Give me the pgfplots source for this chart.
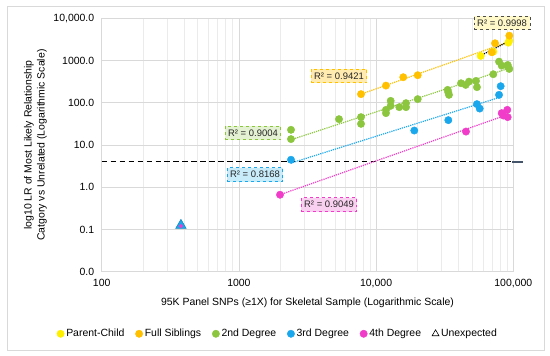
\documentclass[border=0pt]{standalone}
\usepackage{pgfplots}
\pgfplotsset{compat=1.18}
\usepackage{fontspec}
\setmainfont{Liberation Sans}
\definecolor{cYel}{HTML}{FFF000}
\definecolor{cOra}{HTML}{FFC000}
\definecolor{cGre}{HTML}{8CC63F}
\definecolor{cBlu}{HTML}{1AA7EC}
\definecolor{cPin}{HTML}{F03CC8}
\definecolor{gridc}{HTML}{D9D9D9}
\definecolor{mgridc}{HTML}{EBEBEB}
\definecolor{slate}{HTML}{44546A}
\begin{document}
\begin{tikzpicture}
\begin{axis}[
  name=ax,
  scale only axis, width=411.6bp, height=253.4bp,
  xmode=log, ymode=log,
  xmin=100, xmax=100000, ymin=0.01, ymax=10000,
  clip=false,
  font=\fontsize{10.5}{13}\selectfont,
  xtick={100,1000,10000,100000},
  xticklabels={100,1000,{10,000},{100,000}},
  ytick={0.01,0.1,1,10,100,1000,10000},
  yticklabels={0.0,0.1,1.0,10.0,100.0,1000.0,{10,000.0}},
  minor xtick={200,300,400,500,600,700,800,900,2000,3000,4000,5000,6000,7000,8000,9000,20000,30000,40000,50000,60000,70000,80000,90000},
  minor ytick={},
  xmajorgrids, ymajorgrids, xminorgrids,
  major grid style={gridc, line width=0.8pt},
  minor grid style={mgridc, line width=0.6pt},
  axis line style={gridc, line width=0.8pt},
  tick style={draw=none},
  xticklabel style={yshift=-4bp},
  yticklabel style={xshift=-4bp},
  xlabel={95K Panel SNPs (≥1X) for Skeletal Sample (Logarithmic Scale)},
  every axis x label/.style={at={(axis description cs:0.5,-0.122)}, anchor=center, font=\fontsize{10.5}{13}\selectfont},
  legend columns=-1,
  legend style={at={(axis description cs:0.428,-0.245)}, anchor=center, draw=none, fill=none,
    font=\fontsize{10.5}{13}\selectfont, /tikz/every even column/.append style={column sep=9bp}},
  legend image code/.code={\draw[#1] plot coordinates {(0bp,0bp)};},
]
% threshold line
\addplot[black, line width=1.3pt, dash pattern=on 5.5pt off 3.5pt, forget plot] coordinates {(100,4) (100000,4)};
\addplot[slate, line width=1.6pt, forget plot] coordinates {(98000,4) (117000,4)};
% trend lines
\addplot[cOra, line width=1.2pt, densely dotted, forget plot] coordinates {(7762,160) (93500,2800)};
\addplot[cGre, line width=1.2pt, densely dotted, forget plot] coordinates {(2397,13.3) (93500,658)};
\addplot[cBlu, line width=1.2pt, densely dotted, forget plot] coordinates {(2397,3.73) (78700,133)};
\addplot[cPin, line width=1.2pt, densely dotted, forget plot] coordinates {(1994,0.665) (82600,47)};
% data
\addplot[only marks, mark=*, mark size=3.7bp, cYel, mark options={draw=cYel, fill=cYel}] coordinates {
 (57850,1285) (71470,1623) (93500,2951) (92000,2650)};
\addlegendentry{Parent-Child}
\addplot[only marks, mark=*, mark size=3.7bp, cOra, mark options={draw=cOra, fill=cOra}] coordinates {
 (7762,160) (11800,255) (15780,403) (20100,449) (73600,2564) (69600,1572) (93500,3880)};
\addlegendentry{Full Siblings}
\addplot[only marks, mark=*, mark size=3.7bp, cGre, mark options={draw=cGre, fill=cGre}] coordinates {
 (2397,22.9) (2397,13.8) (5365,40.9) (7762,45.7) (7762,31.7) (11800,67.9) (11800,56.8)
 (12770,111) (12770,84.5) (14760,78.7) (16520,97.9) (16520,78.7) (20100,122)
 (33240,202) (33980,154) (33600,176) (41590,290) (44980,265) (47540,317) (53460,329)
 (54330,234) (71470,474) (78700,942) (82300,757) (91000,787) (93500,633) (91500,706)};
\addlegendentry{2nd Degree}
\addplot[only marks, mark=*, mark size=3.7bp, cBlu, mark options={draw=cBlu, fill=cBlu}] coordinates {
 (2397,4.47) (18980,22.0) (33600,38.8) (54330,92.7) (56900,72.9) (78700,154) (80900,247)};
\addlegendentry{3rd Degree}
\addplot[only marks, mark=*, mark size=3.7bp, cPin, mark options={draw=cPin, fill=cPin}] coordinates {
 (1994,0.665) (45200,20.8) (82300,56.8) (90400,67.9) (91000,45.7) (84600,49.8)};
\addlegendentry{4th Degree}
% yellow trend over points
\addplot[black, line width=1.2pt, densely dotted, forget plot] coordinates {(57200,1285) (94600,2951)};
% unexpected
\addplot[only marks, mark=triangle*, mark size=6bp, forget plot, mark options={draw=cBlu!80!black, fill=cBlu, line width=0.6pt}] coordinates {(378,0.125)};
\addplot[only marks, mark=*, mark size=1.8bp, forget plot, mark options={draw=cPin, fill=cPin}] coordinates {(378,0.12)};
\addlegendimage{only marks, mark=triangle, mark size=4bp, black, mark options={line width=0.6pt}}
\addlegendentry{Unexpected}
% y label, two lines
\node[rotate=90, anchor=center, font=\fontsize{10.5}{13}\selectfont] at (axis description cs:-0.1766,0.5) {log10 LR of Most Likely Relationship};
\node[rotate=90, anchor=center, font=\fontsize{10.5}{13}\selectfont] at (axis description cs:-0.1450,0.5) {Catgory vs Unrelated (Logarithmic Scale)};
% R^2 labels
\tikzset{rbox/.style={font=\fontsize{9.5}{11}\selectfont, dashed, line width=0.8pt, inner xsep=3bp, inner ysep=3.5bp, text=black!85}}
\node[rbox, draw=black!70, fill={rgb,255:red,255;green,248;blue,200}] at (axis cs:82800,7745) {R² = 0.9998};
\node[rbox, draw=cOra, fill={rgb,255:red,255;green,234;blue,176}] at (axis cs:5365,432) {R² = 0.9421};
\node[rbox, draw=cGre, fill={rgb,255:red,228;green,241;blue,210}] at (axis cs:1267,19.4) {R² = 0.9004};
\node[rbox, draw=cBlu, fill={rgb,255:red,200;green,236;blue,250}] at (axis cs:1310,1.98) {R² = 0.8168};
\node[rbox, draw=cPin, fill={rgb,255:red,250;green,208;blue,240}] at (axis cs:4538,0.386) {R² = 0.9049};
\end{axis}
\draw[gridc, line width=0.8pt] ([shift={(-94.7bp,-78.3bp)}]ax.south west) rectangle ([shift={(442.3bp,265.7bp)}]ax.south west);
\path[use as bounding box] ([shift={(-101.7bp,-84.3bp)}]ax.south west) rectangle ([shift={(448.3bp,271.7bp)}]ax.south west);
\end{tikzpicture}
\end{document}
